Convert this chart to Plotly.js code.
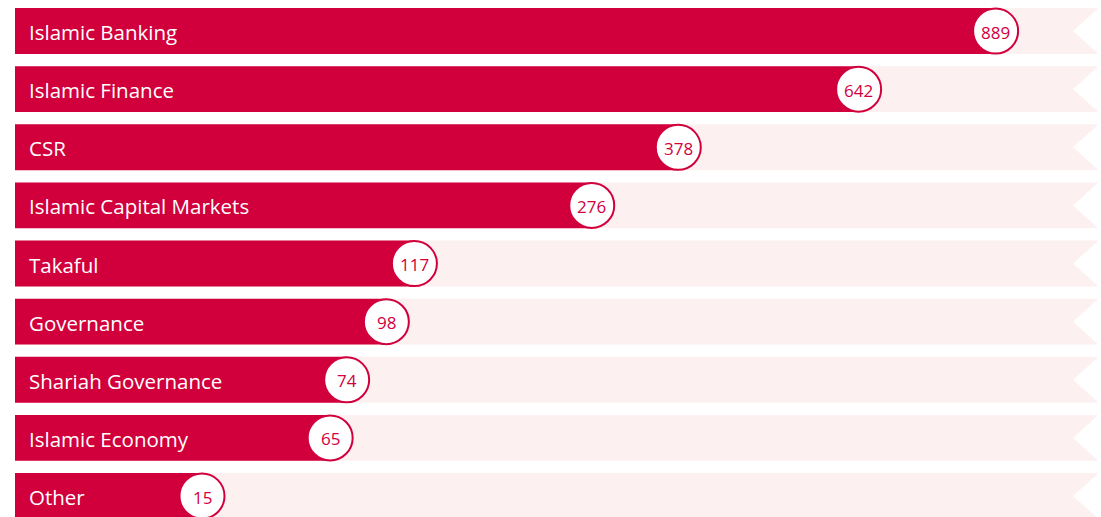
<!DOCTYPE html>
<html>
<head>
<meta charset="utf-8">
<script src="https://cdn.plot.ly/plotly-3.0.1.min.js"></script>
<style>
  html, body { margin: 0; padding: 0; background: #ffffff; }
  #chart { width: 1101px; height: 517px; }
</style>
</head>
<body>
<div id="chart"></div>
<script>
// ---- data ----
const categories = [
  "Islamic Banking",
  "Islamic Finance",
  "CSR",
  "Islamic Capital Markets",
  "Takaful",
  "Governance",
  "Shariah Governance",
  "Islamic Economy",
  "Other"
];
const counts = [889, 642, 378, 276, 117, 98, 74, 65, 15];

// ---- styling ----
const RED = "#D1003D";
const PINK = "#FCF1F0";
const FONT = "'Open Sans', Lato, sans-serif";

// square-root scale (bars are drawn from sqrt of the counts)
const xs = counts.map(v => Math.sqrt(v));
const rows = categories.map((c, i) => i);
const X0 = -2.24;   // axis start (label stub)
const X1 = 33.13;   // axis end
const BAR_W = 0.79;

const bgTrace = {
  type: "bar",
  orientation: "h",
  y: rows,
  x: rows.map(() => X1 - X0),
  base: rows.map(() => X0),
  width: BAR_W,
  marker: { color: PINK, line: { width: 0 } },
  hoverinfo: "skip",
  showlegend: false
};

const barTrace = {
  type: "bar",
  orientation: "h",
  y: rows,
  x: xs.map(s => s - X0),
  base: rows.map(() => X0),
  width: BAR_W,
  marker: { color: RED, line: { width: 0 } },
  customdata: counts,
  text: categories,
  textposition: "none",
  hovertemplate: "%{text}: %{customdata}<extra></extra>",
  showlegend: false
};

const circleTrace = {
  type: "scatter",
  mode: "markers",
  x: xs,
  y: rows,
  marker: { size: 45, color: "#ffffff", line: { color: RED, width: 2 } },
  cliponaxis: false,
  hoverinfo: "skip",
  showlegend: false
};

const labelAnnotations = categories.map((c, i) => ({
  xref: "x", yref: "y",
  x: X0, y: i,
  xanchor: "left", yanchor: "middle",
  xshift: 12,
  yshift: -1,
  text: c,
  showarrow: false,
  font: { family: FONT, size: 20.5, color: "#ffffff" }
}));

const valueAnnotations = counts.map((v, i) => ({
  xref: "x", yref: "y",
  x: xs[i], y: i,
  xanchor: "center", yanchor: "middle",
  yshift: -1,
  text: String(v),
  showarrow: false,
  font: { family: FONT, size: 17, color: RED }
}));

// ribbon-tail notch at the right end of every background bar
const NOTCH = 24 / 1082;
const shapes = rows.map(i => ({
  type: "path",
  xref: "paper", yref: "y",
  path: `M 1.002,${i - BAR_W / 2 - 0.01} L ${1 - NOTCH},${i} L 1.002,${i + BAR_W / 2 + 0.01} Z`,
  fillcolor: "#ffffff",
  line: { width: 0 },
  layer: "above"
}));

const layout = {
  width: 1101,
  height: 517,
  margin: { l: 15, r: 4, t: 0, b: 0, pad: 0 },
  paper_bgcolor: "#ffffff",
  plot_bgcolor: "#ffffff",
  barmode: "overlay",
  showlegend: false,
  xaxis: {
    range: [X0, X1],
    visible: false,
    fixedrange: true
  },
  yaxis: {
    range: [8.361, -0.534],
    visible: false,
    fixedrange: true
  },
  annotations: labelAnnotations.concat(valueAnnotations),
  shapes: shapes,
  font: { family: FONT }
};

Plotly.newPlot("chart", [bgTrace, barTrace, circleTrace], layout, { displayModeBar: false, responsive: false });
</script>
</body>
</html>
